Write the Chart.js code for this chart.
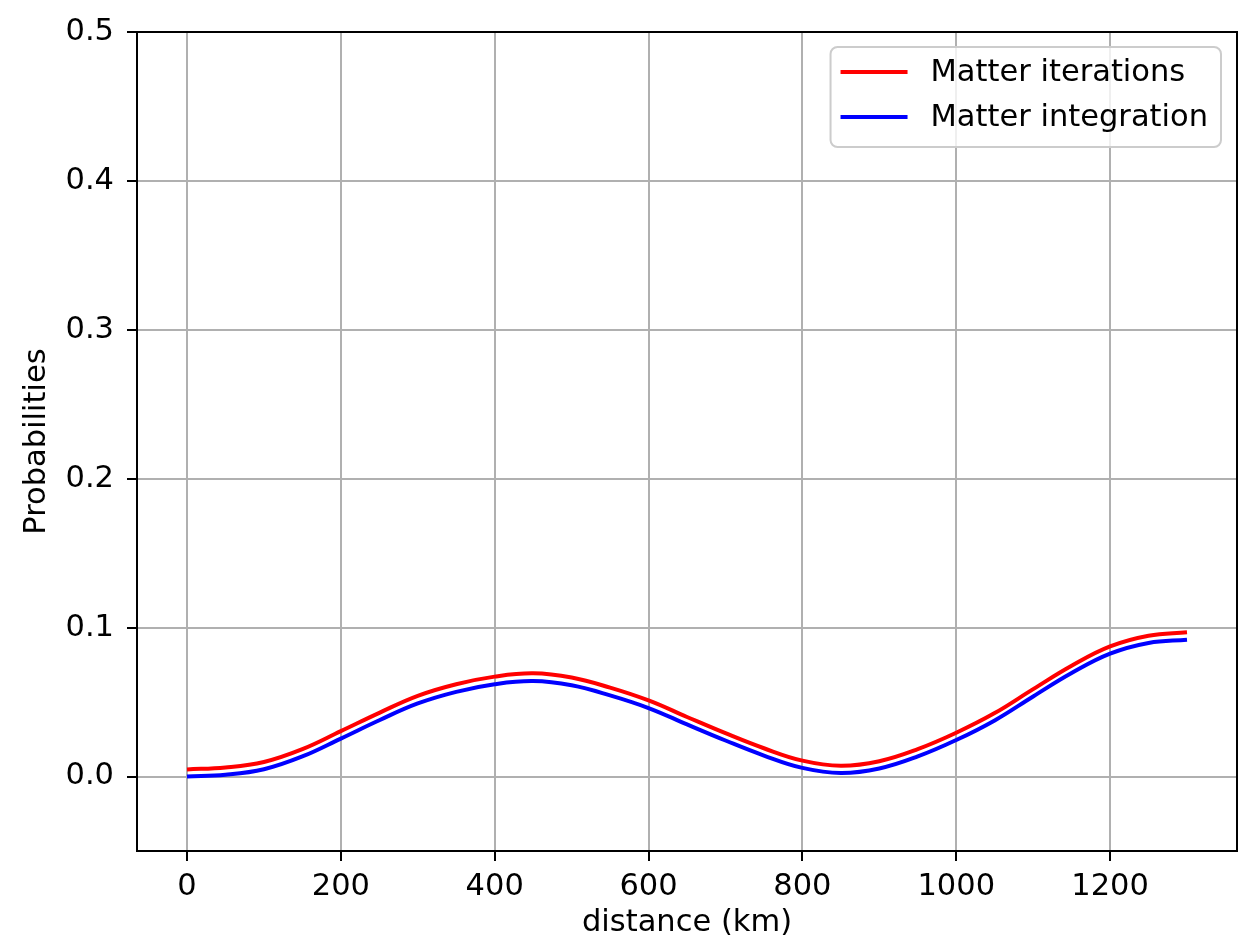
<!DOCTYPE html>
<html>
<head>
<meta charset="utf-8">
<script src="https://cdn.jsdelivr.net/npm/chart.js@4.4.0/dist/chart.umd.min.js"></script>
<style>
  html, body { margin: 0; padding: 0; background: #fff; }
  canvas { display: block; }
</style>
</head>
<body>
<canvas id="chartjs-0" width="1256" height="941"></canvas>
<script>
/* distance along the path (km) */
var distances = [0, 50, 100, 150, 200, 250, 300, 350, 400, 450, 500, 550, 600, 650,
  700, 750, 800, 850, 900, 950, 1000, 1050, 1100, 1150, 1200, 1250, 1300];

/* probability from the step-by-step matter evolution */
var iterationValues = [0.0048, 0.0061, 0.0098, 0.0184, 0.0305, 0.0428, 0.0542, 0.0620,
  0.0671, 0.0693, 0.0665, 0.0597, 0.0511, 0.0400, 0.0291, 0.0190, 0.0107, 0.0073,
  0.0103, 0.0184, 0.0294, 0.0426, 0.0587, 0.0744, 0.0874, 0.0946, 0.0969];

/* probability from the direct integration */
var integrationValues = [0.0000, 0.0012, 0.0049, 0.0135, 0.0255, 0.0378, 0.0491, 0.0569,
  0.0620, 0.0641, 0.0613, 0.0545, 0.0460, 0.0350, 0.0242, 0.0141, 0.0058, 0.0024,
  0.0054, 0.0135, 0.0245, 0.0377, 0.0538, 0.0695, 0.0825, 0.0897, 0.0919];

var xTicks = [0, 200, 400, 600, 800, 1000, 1200];
var yTicks = [0.0, 0.1, 0.2, 0.3, 0.4, 0.5];

function toPoints(values) {
  var pts = [];
  for (var i = 0; i < distances.length; i++) {
    pts.push({ x: distances[i], y: values[i] });
  }
  return pts;
}

var FONT = "DejaVu Sans";
var FONT_SIZE = 30.5;

Chart.defaults.font.family = FONT;
Chart.defaults.font.size = FONT_SIZE;
Chart.defaults.color = "#000";

/* black box around the plotting area */
var framePlugin = {
  id: "frame",
  afterDatasetsDraw: function (chart) {
    var a = chart.chartArea;
    var ctx = chart.ctx;
    ctx.save();
    ctx.strokeStyle = "#000";
    ctx.lineWidth = 2;
    ctx.strokeRect(a.left, a.top, a.right - a.left, a.bottom - a.top);
    ctx.restore();
  }
};

/* legend in a rounded box at the top right of the plotting area */
var boxLegendPlugin = {
  id: "boxLegend",
  afterDraw: function (chart) {
    var ctx = chart.ctx;
    var a = chart.chartArea;
    var sets = chart.data.datasets;
    ctx.save();
    ctx.font = FONT_SIZE + "px '" + FONT + "'";
    var textW = 0;
    sets.forEach(function (d) { textW = Math.max(textW, ctx.measureText(d.label).width); });
    var padL = 10, handle = 67, gap = 23, padR = 13, rowH = 45, padT = 25, padB = 30;
    var w = padL + handle + gap + textW + padR;
    var h = padT + rowH * (sets.length - 1) + padB;
    var right = a.right - 16;
    var left = right - w;
    var top = a.top + 15;

    ctx.beginPath();
    ctx.roundRect(left, top, w, h, 7);
    ctx.fillStyle = "rgba(255,255,255,0.8)";
    ctx.fill();
    ctx.strokeStyle = "#cccccc";
    ctx.lineWidth = 2;
    ctx.stroke();

    ctx.textAlign = "left";
    ctx.textBaseline = "middle";
    sets.forEach(function (d, i) {
      var y = top + padT + i * rowH;
      ctx.beginPath();
      ctx.moveTo(left + padL, y);
      ctx.lineTo(left + padL + handle, y);
      ctx.strokeStyle = d.borderColor;
      ctx.lineWidth = 4;
      ctx.stroke();
      ctx.fillStyle = "#000";
      ctx.fillText(d.label, left + padL + handle + gap, y + 1);
    });
    ctx.restore();
  }
};

var ctx = document.getElementById("chartjs-0");

var myChart = new Chart(ctx, {
  type: "line",
  data: {
    datasets: [
      {
        label: "Matter iterations",
        data: toPoints(iterationValues),
        borderColor: "#ff0000",
        backgroundColor: "#ff0000",
        borderWidth: 4,
        pointRadius: 0,
        fill: false,
        tension: 0.4
      },
      {
        label: "Matter integration",
        data: toPoints(integrationValues),
        borderColor: "#0000ff",
        backgroundColor: "#0000ff",
        borderWidth: 4,
        pointRadius: 0,
        fill: false,
        tension: 0.4
      }
    ]
  },
  options: {
    responsive: false,
    animation: false,
    devicePixelRatio: 1,
    layout: { padding: { left: 0, right: 19, top: 32, bottom: 0 } },
    plugins: {
      legend: { display: false },
      tooltip: { enabled: false }
    },
    scales: {
      x: {
        type: "linear",
        min: -65,
        max: 1365,
        afterBuildTicks: function (scale) {
          scale.ticks = xTicks.map(function (v) { return { value: v }; });
        },
        afterFit: function (scale) { scale.height = 90; },
        grid: {
          color: "#b0b0b0",
          lineWidth: 2,
          tickColor: "#000",
          tickLength: 10,
          tickWidth: 2
        },
        border: { display: true, color: "#000", width: 2 },
        ticks: {
          padding: 8,
          maxRotation: 0,
          callback: function (v) { return String(v); }
        },
        title: {
          display: true,
          text: "distance (km)",
          padding: { top: 0, bottom: 0 }
        }
      },
      y: {
        type: "linear",
        min: -0.05,
        max: 0.5,
        afterBuildTicks: function (scale) {
          scale.ticks = yTicks.map(function (v) { return { value: v }; });
        },
        afterFit: function (scale) { scale.width = 137; },
        grid: {
          color: "#b0b0b0",
          lineWidth: 2,
          tickColor: "#000",
          tickLength: 10,
          tickWidth: 2
        },
        border: { display: true, color: "#000", width: 2 },
        ticks: {
          padding: 13,
          callback: function (v) { return v.toFixed(1); }
        },
        title: {
          display: true,
          text: "Probabilities",
          padding: { top: 19, bottom: 0 }
        }
      }
    }
  },
  plugins: [framePlugin, boxLegendPlugin]
});
</script>
</body>
</html>
